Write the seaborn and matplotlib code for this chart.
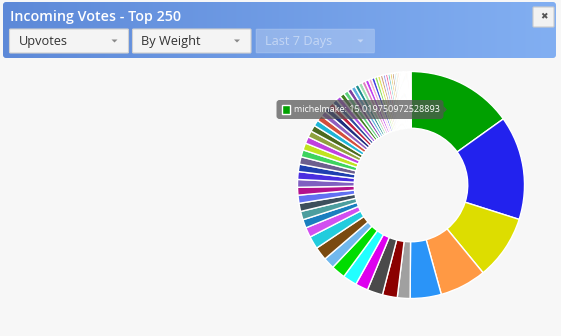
import numpy as np
import matplotlib
matplotlib.use("Agg")
import matplotlib.pyplot as plt
import seaborn as sns
from matplotlib.patches import FancyBboxPatch, Rectangle, Polygon

sns.set_style("white")
plt.rcParams['font.family'] = ['Open Sans', 'DejaVu Sans']

# ---------------- data ----------------
title = "Incoming Votes - Top 250"
dropdowns = ["Upvotes", "By Weight", "Last 7 Days"]
tooltip_label = "michelmake: 15.019750972528893"

vote_values = [
    15.02, 14.7, 9.1, 6.6, 4.4, 1.8, 2.1, 2.2, 1.8, 2.0, 2.0, 1.6, 1.9, 1.8,
    1.4, 1.2, 1.2, 1.15, 1.15, 1.1, 1.1, 1.1, 1.05, 1.05, 1.0, 1.0,
    0.95, 0.9, 0.9, 0.85, 0.85, 0.8, 0.8, 0.75, 0.7, 0.7, 0.65, 0.65,
    0.6, 0.6, 0.55, 0.55, 0.5, 0.5, 0.45, 0.45, 0.42, 0.4, 0.38, 0.36,
    0.34, 0.32, 0.3, 0.28, 0.26, 0.24, 0.22, 0.2, 0.19, 0.18, 0.17,
    0.16, 0.15, 0.14, 0.13, 0.12, 0.11, 0.1,
]
slice_colors = [
    '#00a000', '#2222ee', '#dddd00', '#ff9944', '#2a94f8', '#a0a0a0',
    '#8b0000', '#4a4a4a', '#dd00ee', '#22ffff', '#00dd00', '#70b8ee',
    '#7a4a10', '#22ccdd',
    '#d14ff0', '#1a7fbf', '#4c9e9e', '#3d4f5c', '#6171f2', '#b3128c',
    '#7f5fc0', '#4a2ee0', '#1f3fb0', '#6d5f8e', '#3ed35f', '#c1e31f',
    '#c040e0', '#8fa23f', '#4d6a1f', '#1fb5d6', '#d44f3c', '#8f5fbf',
    '#1f2f7f', '#c0203f', '#2f4f9f', '#b050e0', '#3f7f1f', '#5fd07f',
    '#7f3f9f', '#5fb0e0', '#1f8f8f', '#9fe0af', '#e080c0', '#c040f0',
    '#f0b0d0', '#3f3fe0', '#8fe05f', '#e0e060', '#d0a080', '#a0a0f0',
    '#f060a0', '#60c0c0', '#e0c040', '#a06030', '#90d0f0', '#c0c060',
    '#f09060', '#8080c0', '#60e0a0', '#e0a0e0', '#b0b020', '#40a0f0',
    '#f0d0a0', '#c08040', '#a0e0e0', '#e06080', '#b0a0e0', '#d0b060',
]

W, H = 561, 336
fig = plt.figure(figsize=(W / 100, H / 100), dpi=100, facecolor='#f7f7f7')

# background / header layer in pixel coords
bg = fig.add_axes([0, 0, 1, 1])
bg.set_xlim(0, W)
bg.set_ylim(H, 0)
bg.axis('off')
bg.set_facecolor('#f7f7f7')

hx0, hx1, hy0, hy1 = 3, 556, 2, 58
grad = np.linspace(0, 1, 256)[None, :]
cmap = matplotlib.colors.LinearSegmentedColormap.from_list('hdr', ['#5d89d8', '#82aff2'])
im = bg.imshow(grad, extent=(hx0, hx1, hy1, hy0), cmap=cmap, aspect='auto', zorder=1)
clip = FancyBboxPatch((hx0 + 3, hy0 + 3), hx1 - hx0 - 6, hy1 - hy0 - 6,
                      boxstyle='round,pad=3', transform=bg.transData,
                      facecolor='none', edgecolor='none')
bg.add_patch(clip)
im.set_clip_path(clip)

bg.text(10, 16.5, title, color='white', fontsize=10.3, fontweight='semibold',
        va='center', ha='left', zorder=3)

boxes = [(9.5, 128.5), (132.5, 251), (256, 374.5)]
for i, ((x0, x1), lab) in enumerate(zip(boxes, dropdowns)):
    disabled = i == 2
    fc = (1, 1, 1, 0.25) if disabled else '#f4f4f4'
    ec = (1, 1, 1, 0.15) if disabled else '#d0d0d0'
    bg.add_patch(FancyBboxPatch((x0 + 1, 30), x1 - x0 - 2, 22,
                                boxstyle='round,pad=1', facecolor=fc,
                                edgecolor=ec, linewidth=0.8, zorder=3))
    tc = (1, 1, 1, 0.45) if disabled else '#333333'
    bg.text(x0 + 9, 41.5, lab, color=tc, fontsize=9.2, va='center', ha='left', zorder=4)
    cx = x1 - 14
    bg.add_patch(Polygon([[cx - 3, 39.5], [cx + 3, 39.5], [cx, 42.5]], closed=True,
                         facecolor=(1, 1, 1, 0.45) if disabled else '#888888',
                         edgecolor='none', zorder=4))

# close button
bg.add_patch(FancyBboxPatch((534, 8), 19, 18, boxstyle='round,pad=1',
                            facecolor='#f2f2f2', edgecolor='#cccccc',
                            linewidth=0.8, zorder=3))
bg.text(543.5, 17, '\u2716', family=['DejaVu Sans'], fontsize=6.5, color='#555555',
        ha='center', va='center', zorder=4)

# donut chart
cx, cy, R = 411, 185, 113.5
pie_ax = fig.add_axes([(cx - R) / W, (H - cy - R) / H, 2 * R / W, 2 * R / H])
pie_ax.pie(vote_values, colors=slice_colors[:len(vote_values)], startangle=90,
           counterclock=False, radius=1,
           wedgeprops=dict(width=0.5, edgecolor='white', linewidth=1.0))
pie_ax.set_xlim(-1, 1)
pie_ax.set_ylim(-1, 1)
pie_ax.set_aspect('equal')
pie_ax.axis('off')

# tooltip overlay
ov = fig.add_axes([0, 0, 1, 1])
ov.set_xlim(0, W)
ov.set_ylim(H, 0)
ov.axis('off')
ov.patch.set_alpha(0)
ov.add_patch(FancyBboxPatch((279.5, 103), 161, 13, boxstyle='round,pad=3',
                            facecolor=(0.33, 0.33, 0.33, 0.72), edgecolor='none', zorder=5))
ov.add_patch(Polygon([[443.5, 106], [447, 109.5], [443.5, 113]], closed=True,
                     facecolor=(0.33, 0.33, 0.33, 0.72), edgecolor='none', zorder=5))
ov.add_patch(Rectangle((282, 105), 8.5, 9, facecolor=slice_colors[0],
                       edgecolor='white', linewidth=1.0, zorder=6))
ov.text(294, 110, tooltip_label, color='white', fontsize=6.5, va='center',
        ha='left', zorder=6)

fig.savefig('out.png', dpi=100, facecolor=fig.get_facecolor())
